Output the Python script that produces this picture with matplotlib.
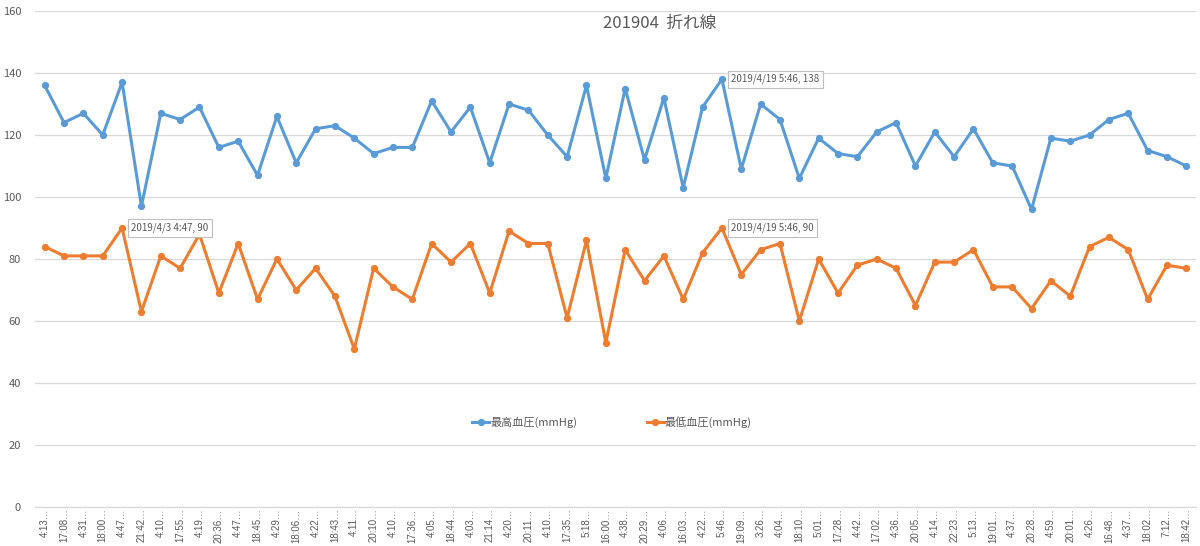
import matplotlib
matplotlib.use("Agg")
import matplotlib.pyplot as plt

plt.rcParams['font.family'] = ['Noto Sans CJK JP', 'DejaVu Sans']

labels = ["4:13", "17:08", "4:31", "18:00", "4:47", "21:42", "4:10", "17:55", "4:19", "20:36",
          "4:47", "18:45", "4:29", "18:06", "4:22", "18:43", "4:11", "20:10", "4:10", "17:36",
          "4:05", "18:44", "4:03", "21:14", "4:20", "20:11", "4:10", "17:35", "5:18", "16:00",
          "4:38", "20:29", "4:06", "16:03", "4:22", "5:46", "19:09", "3:26", "4:04", "18:10",
          "5:01", "17:28", "4:42", "17:02", "4:36", "20:05", "4:14", "22:23", "5:13", "19:01",
          "4:37", "20:28", "4:59", "20:01", "4:26", "16:48", "4:37", "18:02", "7:12", "18:42"]

systolic = [136, 124, 127, 120, 137, 97, 127, 125, 129, 116,
            118, 107, 126, 111, 122, 123, 119, 114, 116, 116,
            131, 121, 129, 111, 130, 128, 120, 113, 136, 106,
            135, 112, 132, 103, 129, 138, 109, 130, 125, 106,
            119, 114, 113, 121, 124, 110, 121, 113, 122, 111,
            110, 96, 119, 118, 120, 125, 127, 115, 113, 110]

diastolic = [84, 81, 81, 81, 90, 63, 81, 77, 88, 69,
             85, 67, 80, 70, 77, 68, 51, 77, 71, 67,
             85, 79, 85, 69, 89, 85, 85, 61, 86, 53,
             83, 73, 81, 67, 82, 90, 75, 83, 85, 60,
             80, 69, 78, 80, 77, 65, 79, 79, 83, 71,
             71, 64, 73, 68, 84, 87, 83, 67, 78, 77]

series_names = ["最高血圧(mmHg)", "最低血圧(mmHg)"]
title = "201904  折れ線"
callouts = [(1, 4, "2019/4/3 4:47, 90"),
            (0, 35, "2019/4/19 5:46, 138"),
            (1, 35, "2019/4/19 5:46, 90")]

blue = "#5B9BD5"
orange = "#ED7D31"
txt = "#595959"
grid = "#D9D9D9"

fig = plt.figure(figsize=(12, 5.46), dpi=100)
ax = fig.add_axes([35 / 1200, 39 / 546, 1161 / 1200, 496 / 546])

x = list(range(len(labels)))
l1, = ax.plot(x, systolic, color=blue, lw=2.2, marker='o', ms=4.2, label=series_names[0], zorder=3)
l2, = ax.plot(x, diastolic, color=orange, lw=2.2, marker='o', ms=4.2, label=series_names[1], zorder=3)

ax.set_xlim(-0.5, len(labels) - 0.5)
ax.set_ylim(0, 160)
ax.set_yticks(range(0, 161, 20))
ax.yaxis.grid(True, color=grid, lw=0.9)
ax.set_axisbelow(True)
for s in ['top', 'right', 'left']:
    ax.spines[s].set_visible(False)
ax.spines['bottom'].set_color(grid)
ax.spines['bottom'].set_linewidth(0.9)

ax.set_xticks(x)
ax.set_xticklabels([l + "…" for l in labels], rotation=90, fontsize=7, color=txt,
                   family=['Liberation Sans', 'DejaVu Sans'])
ax.tick_params(axis='x', length=0, pad=1)
ax.tick_params(axis='y', length=0, labelsize=8, labelcolor=txt, pad=10)

fig.text(660 / 1200, 1 - 23 / 546, title, ha='center', va='center', fontsize=12, color=txt)

data = [systolic, diastolic]
for si, idx, text in callouts:
    ax.annotate(text, xy=(idx, data[si][idx]), xytext=(9, 0), textcoords='offset pixels',
                ha='left', va='center', fontsize=7, color=txt,
                bbox=dict(boxstyle='square,pad=0.35', fc='white', ec='#BFBFBF', lw=0.8), zorder=5)

leg = ax.legend(handles=[l1, l2], loc='center', bbox_to_anchor=((612 - 35) / 1161, (507 - 422) / 496),
                ncol=2, frameon=False, fontsize=8, columnspacing=6.3, handlelength=1.5,
                handletextpad=0.1, labelcolor=txt)
for h in leg.legend_handles:
    h.set_linewidth(2.2)

fig.savefig("out.png", dpi=100, facecolor='white')
